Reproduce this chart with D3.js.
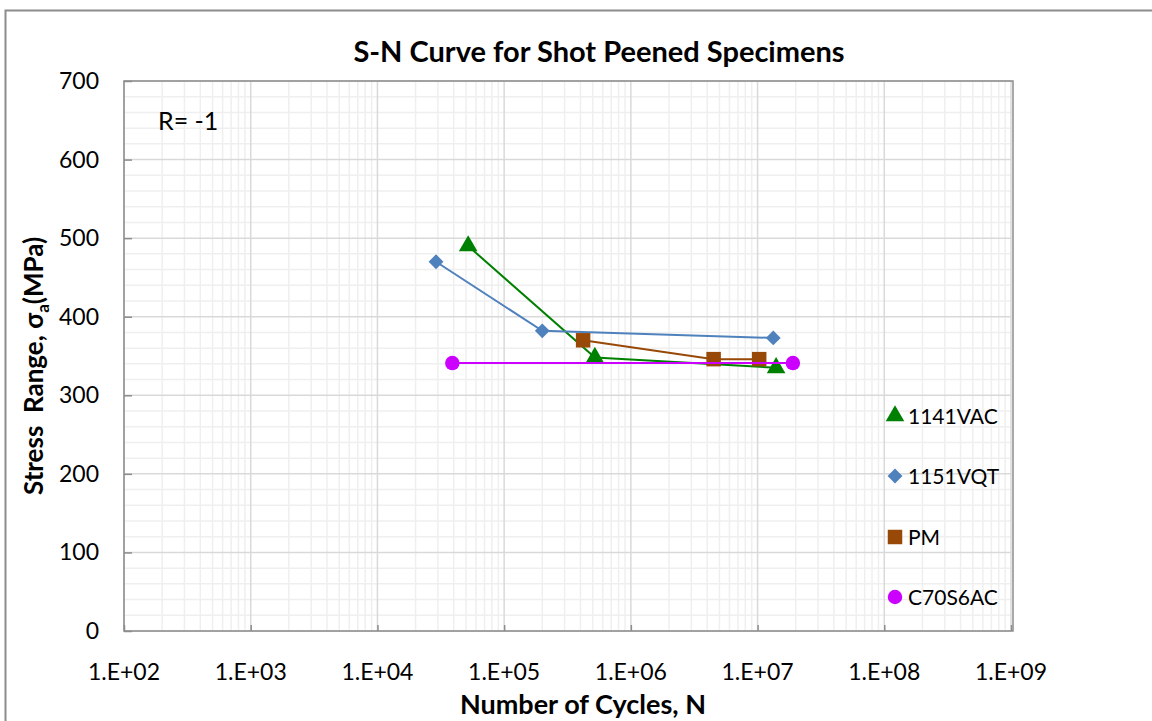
<!DOCTYPE html>
<html>
<head>
<meta charset="utf-8">
<script src="https://cdn.jsdelivr.net/npm/d3@7"></script>
<style>
  body { margin: 0; background: #fff; }
  svg text { font-family: Lato, "Open Sans", sans-serif; fill: #000; }
</style>
</head>
<body>
<div id="chart"></div>
<script>
// data
const seriesNames = ['1141VAC', '1151VQT', 'PM', 'C70S6AC'];
const cycles1141 = [5.2e4, 5.2e5, 1.4e7];
const stress1141 = [490, 348, 335];
const cycles1151 = [2.9e4, 2.0e5, 1.33e7];
const stress1151 = [470, 382, 373];
const cyclesPM = [4.2e5, 4.5e6, 1.03e7];
const stressPM = [370, 346, 346];
const cyclesC70 = [3.9e4, 1.9e7];
const stressC70 = [341, 341];
const xTicks = [1e2, 1e3, 1e4, 1e5, 1e6, 1e7, 1e8, 1e9];
const yTicks = [0, 100, 200, 300, 400, 500, 600, 700];

const width = 1152, height = 721;
const plotL = 124, plotR = 1011, plotT = 81, plotB = 631;

const svg = d3.select('#chart').append('svg')
  .attr('width', width)
  .attr('height', height);

// outer chart frame
svg.append('rect')
  .attr('x', 5.5).attr('y', 10.5)
  .attr('width', 1160).attr('height', 730)
  .attr('fill', 'none').attr('stroke', '#8c8c8c').attr('stroke-width', 2);

const x = d3.scaleLog().domain([1e2, 1e9]).range([plotL, plotR]);
const y = d3.scaleLinear().domain([0, 700]).range([plotB, plotT]);

// minor grid
const xMinor = [];
for (let e = 2; e < 9; e++) {
  for (let m = 2; m <= 9; m++) xMinor.push(m * Math.pow(10, e));
}
const yMinor = d3.range(0, 701, 20).filter(v => v % 100 !== 0);

const grid = svg.append('g');
grid.selectAll('.xm').data(xMinor).enter().append('line')
  .attr('x1', d => x(d)).attr('x2', d => x(d))
  .attr('y1', plotT).attr('y2', plotB)
  .attr('stroke', '#efefef').attr('stroke-width', 1.5);
grid.selectAll('.ym').data(yMinor).enter().append('line')
  .attr('x1', plotL).attr('x2', plotR)
  .attr('y1', d => y(d)).attr('y2', d => y(d))
  .attr('stroke', '#efefef').attr('stroke-width', 1.5);
grid.selectAll('.xM').data(xTicks).enter().append('line')
  .attr('x1', d => x(d)).attr('x2', d => x(d))
  .attr('y1', plotT).attr('y2', plotB)
  .attr('stroke', '#d9d9d9').attr('stroke-width', 1.5);
grid.selectAll('.yM').data(yTicks).enter().append('line')
  .attr('x1', plotL).attr('x2', plotR)
  .attr('y1', d => y(d)).attr('y2', d => y(d))
  .attr('stroke', '#d9d9d9').attr('stroke-width', 1.5);

// plot border
svg.append('rect')
  .attr('x', plotL).attr('y', plotT)
  .attr('width', plotR - plotL + 2).attr('height', plotB - plotT)
  .attr('fill', 'none').attr('stroke', '#8c8c8c').attr('stroke-width', 1.5);

// axes, ticks inside
const xAxis = d3.axisTop(x).tickValues(xTicks).tickSize(6).tickFormat('');
svg.append('g').attr('transform', `translate(0,${plotB})`).call(xAxis)
  .call(g => g.select('.domain').remove())
  .call(g => g.selectAll('line').attr('stroke', '#8c8c8c').attr('stroke-width', 1.5));
const yAxis = d3.axisRight(y).tickValues(yTicks).tickSize(8).tickFormat('');
svg.append('g').attr('transform', `translate(${plotL},0)`).call(yAxis)
  .call(g => g.select('.domain').remove())
  .call(g => g.selectAll('line').attr('stroke', '#8c8c8c').attr('stroke-width', 1.5));

// tick labels
const fmtX = d => '1.E+' + String(Math.round(Math.log10(d))).padStart(2, '0');
svg.selectAll('.xl').data(xTicks).enter().append('text')
  .attr('x', d => x(d)).attr('y', 680)
  .attr('text-anchor', 'middle').attr('font-size', 23)
  .text(fmtX);
svg.selectAll('.yl').data(yTicks).enter().append('text')
  .attr('x', 99).attr('y', d => y(d) + 8)
  .attr('text-anchor', 'end').attr('font-size', 23)
  .text(d => d);

// titles
svg.append('text').attr('x', 599).attr('y', 62)
  .attr('text-anchor', 'middle').attr('font-size', 29).attr('font-weight', 'bold')
  .text('S-N Curve for Shot Peened Specimens');
svg.append('text').attr('x', 583).attr('y', 714)
  .attr('text-anchor', 'middle').attr('font-size', 27).attr('font-weight', 'bold')
  .text('Number of Cycles, N');
const yt = svg.append('text')
  .attr('transform', 'translate(43,366) rotate(-90)')
  .attr('text-anchor', 'middle').attr('font-size', 26).attr('font-weight', 'bold')
  .attr('xml:space', 'preserve');
yt.append('tspan').text('Stress  Range, \u03c3');
yt.append('tspan').attr('font-size', 17).attr('dy', 6).text('a');
yt.append('tspan').attr('dy', -6).text('(MPa)');

svg.append('text').attr('x', 158).attr('y', 130)
  .attr('font-size', 25).text('R= -1');

// series
const series = [
  { name: seriesNames[0], n: cycles1141, s: stress1141, color: '#008000', shape: d3.symbolTriangle, size: 150, rot: 0 },
  { name: seriesNames[1], n: cycles1151, s: stress1151, color: '#4f81bd', shape: d3.symbolSquare, size: 110, rot: 45 },
  { name: seriesNames[2], n: cyclesPM, s: stressPM, color: '#984807', shape: d3.symbolSquare, size: 210, rot: 0 },
  { name: seriesNames[3], n: cyclesC70, s: stressC70, color: '#cc00ff', shape: d3.symbolCircle, size: 165, rot: 0 }
];

const line = d3.line().x(d => x(d[0])).y(d => y(d[1]));

series.forEach(sr => {
  const pts = sr.n.map((v, i) => [v, sr.s[i]]);
  const g = svg.append('g');
  g.append('path').attr('d', line(pts))
    .attr('fill', 'none').attr('stroke', sr.color).attr('stroke-width', 2);
  g.selectAll('path.m').data(pts).enter().append('path')
    .attr('class', 'm')
    .attr('transform', d => `translate(${x(d[0])},${y(d[1])}) rotate(${sr.rot})`)
    .attr('d', d3.symbol().type(sr.shape).size(sr.size))
    .attr('fill', sr.color);
});

// legend
const legY = [416, 476, 537, 597];
const leg = svg.selectAll('.leg').data(series).enter().append('g')
  .attr('transform', (d, i) => `translate(895,${legY[i]})`);
leg.append('path')
  .attr('transform', d => `rotate(${d.rot})`)
  .attr('d', d => d3.symbol().type(d.shape).size(d.size)())
  .attr('fill', d => d.color);
leg.append('text').attr('x', 13).attr('y', 7.5)
  .attr('font-size', 21).text(d => d.name);
</script>
</body>
</html>
